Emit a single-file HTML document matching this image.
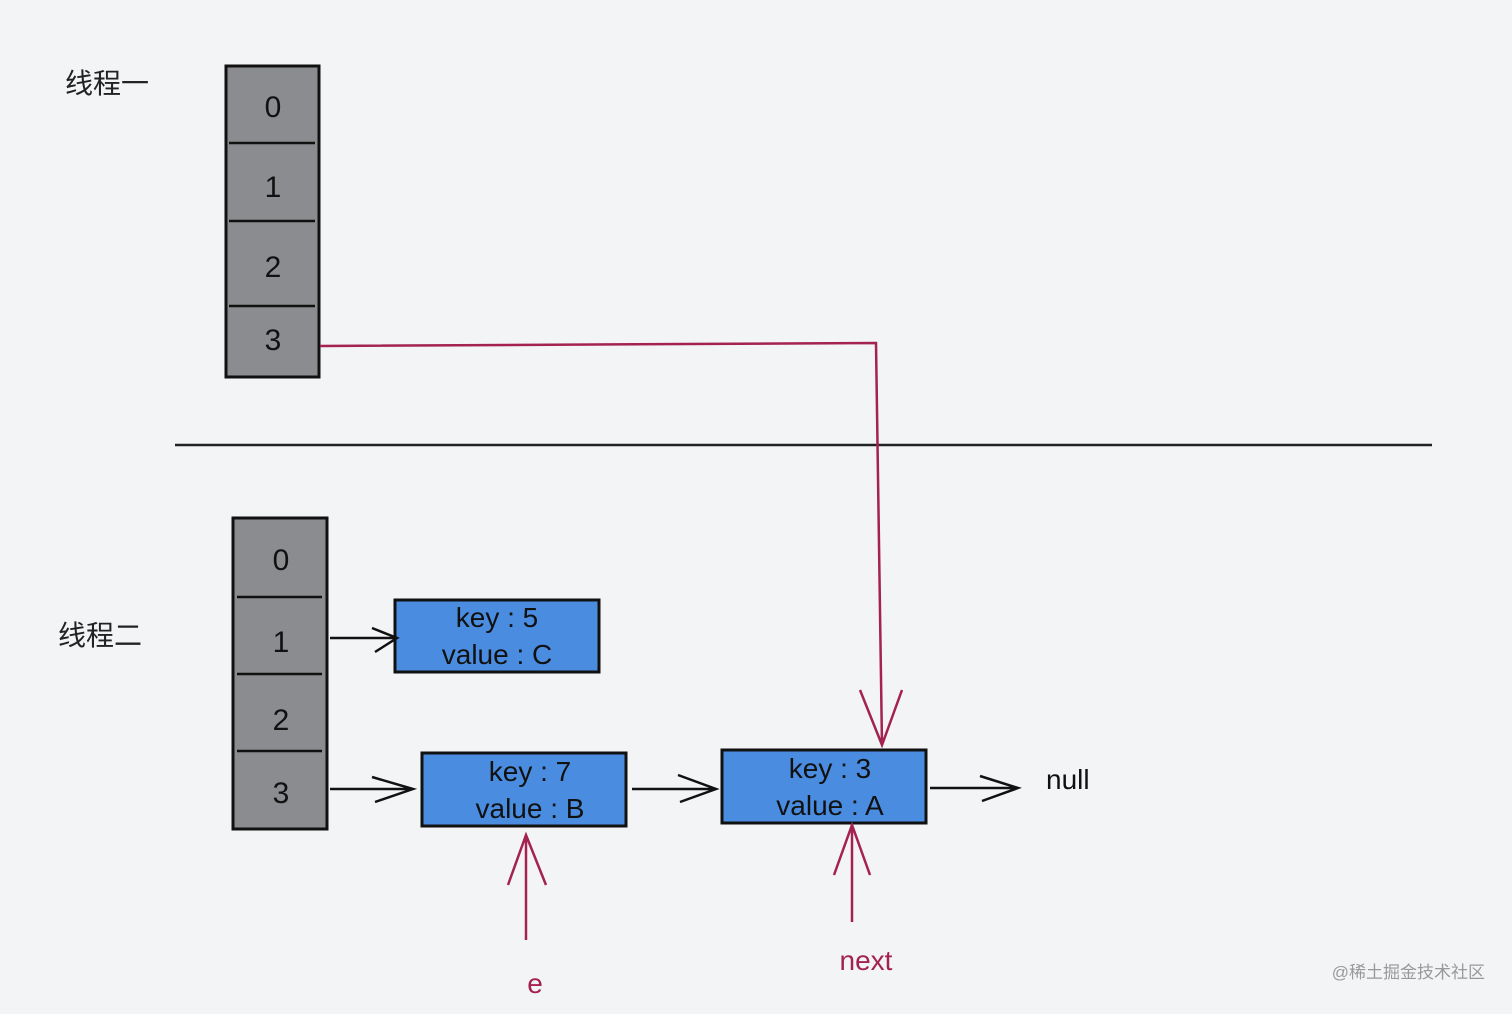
<!DOCTYPE html>
<html><head><meta charset="utf-8"><style>
html,body{margin:0;padding:0;background:#f3f4f6;}
svg text{font-family:"Liberation Sans","Noto Sans CJK SC",sans-serif;}
</style></head><body>
<svg width="1512" height="1009" xmlns="http://www.w3.org/2000/svg">
<rect width="1512" height="1009" fill="#f3f4f6"/>
<text x="65" y="93" font-size="28" fill="#222">线程一</text>
<text x="58" y="645" font-size="28" fill="#222">线程二</text>
<!-- array 1 -->
<rect x="226" y="66" width="93" height="311" fill="#8a8c8f" stroke="#111" stroke-width="3"/>
<g stroke="#111" stroke-width="2.5">
<line x1="229" y1="143" x2="315" y2="143"/><line x1="229" y1="221" x2="315" y2="221"/><line x1="229" y1="306" x2="315" y2="306"/></g>
<g font-size="30" fill="#111" text-anchor="middle">
<text x="273" y="117">0</text><text x="273" y="197">1</text><text x="273" y="277">2</text><text x="273" y="350">3</text></g>
<!-- divider -->
<line x1="175" y1="445" x2="1432" y2="445" stroke="#222" stroke-width="2.5"/>
<!-- array 2 -->
<rect x="233" y="518" width="94" height="311" fill="#8a8c8f" stroke="#111" stroke-width="3"/>
<g stroke="#111" stroke-width="2.5">
<line x1="237" y1="597" x2="322" y2="597"/><line x1="237" y1="674" x2="322" y2="674"/><line x1="237" y1="751" x2="322" y2="751"/></g>
<g font-size="30" fill="#111" text-anchor="middle">
<text x="281" y="570">0</text><text x="281" y="652">1</text><text x="281" y="730">2</text><text x="281" y="803">3</text></g>
<!-- nodes -->
<g fill="#4a8de0" stroke="#111" stroke-width="3">
<rect x="395" y="600" width="204" height="72"/>
<rect x="422" y="753" width="204" height="73"/>
<rect x="722" y="750" width="204" height="73"/></g>
<g font-size="28" fill="#111" text-anchor="middle">
<text x="497" y="627">key : 5</text><text x="497" y="664">value : C</text>
<text x="530" y="781">key : 7</text><text x="530" y="818">value : B</text>
<text x="830" y="778">key : 3</text><text x="830" y="815">value : A</text></g>
<!-- black arrows -->
<g stroke="#111" stroke-width="2.5" fill="none">
<path d="M330 638 L397 638 M372 628 L397 638 L375 652"/>
<path d="M330 789 L413 789 M372 777 L413 789 L375 802"/>
<path d="M632 789 L716 789 M678 775 L716 789 L680 802"/>
<path d="M930 788 L1018 788 M980 776 L1018 788 L982 801"/></g>
<text x="1046" y="789" font-size="28" fill="#111">null</text>
<!-- red lines -->
<g stroke="#a3224e" stroke-width="2.5" fill="none">
<path d="M320 346 L876 343 L882 745 M860 690 L882 745 L902 690"/>
<path d="M526 940 L526 835 M508 885 L526 835 L546 885"/>
<path d="M852 922 L852 825 M834 875 L852 825 L870 875"/></g>
<text x="535" y="993" font-size="28" fill="#a3224e" text-anchor="middle">e</text>
<text x="866" y="970" font-size="28" fill="#a3224e" text-anchor="middle">next</text>
<text x="1485" y="978" font-size="17" fill="#999" text-anchor="end">@稀土掘金技术社区</text>
</svg>
</body></html>
